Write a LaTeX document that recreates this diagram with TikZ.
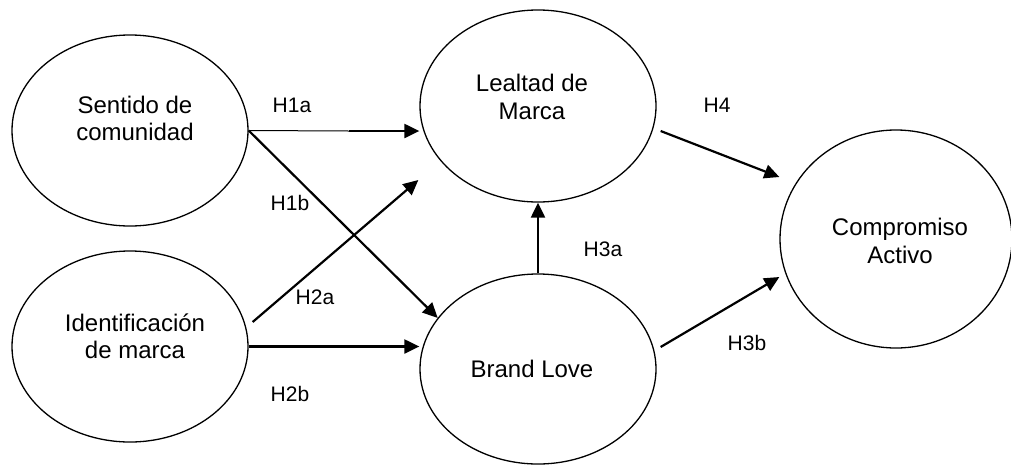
\documentclass[tikz,border=0pt]{standalone}
\usepackage{fontspec}
\setmainfont{Liberation Sans}
\usetikzlibrary{shapes.geometric,arrows.meta,calc}
\begin{document}
\begin{tikzpicture}[x=1pt,y=-1pt,var/.style={ellipse,draw,line width=1.3pt,inner sep=0pt},
vtxt/.style={align=center,font=\fontsize{24}{27.5}\selectfont},hl/.style={font=\fontsize{21}{24}\selectfont},
hyp/.style={line width=2.2pt,-{Triangle[length=15pt,width=14pt]}}]
\useasboundingbox (0,0) rectangle (1011,464);
\node[var,minimum width=236pt,minimum height=191pt,label={[vtxt,name=sentT,xshift=5pt,yshift=12pt]center:{Sentido de\\comunidad}}] (sent) at (130,130.5) {};
\node[var,minimum width=236pt,minimum height=191pt,label={[vtxt,name=idenT,xshift=5pt,yshift=10pt]center:{Identificación\\de marca}}] (iden) at (130,346.5) {};
\node[var,minimum width=236pt,minimum height=192pt,label={[vtxt,name=lealT,xshift=-6pt,yshift=9pt]center:{Lealtad de\\Marca}}] (leal) at (538,106) {};
\node[var,minimum width=236pt,minimum height=190pt,label={[vtxt,name=loveT,xshift=-6pt]center:{Brand Love}}] (love) at (538,369) {};
\node[var,minimum width=232pt,minimum height=218pt,label={[vtxt,name=compT,xshift=4pt,yshift=-2pt]center:{Compromiso\\Activo}}] (comp) at (896,239) {};
% hypotheses
\coordinate (h1am) at (349,131);
\draw[line width=1pt] (sent.east) -- (h1am); \draw[hyp] (h1am) -- (h1am -| leal.west);
\draw[hyp] (sent.east) -- (love.153);
\draw[hyp] ($(iden.east)+(4,-24.5)$) -- ($(leal.west)+(-1,74)$);
\draw[hyp] (iden.east) -- (iden.east -| love.west);
\draw[hyp] (love.north) -- (leal.south);
\draw[hyp] ($(leal.east)+(4,25)$) -- ($(comp.west)+(0,-62)$);
\draw[hyp] ($(love.east)+(4,-22)$) -- ($(comp.west)+(0,38)$);
\node[hl] (h1a) at (292,105) {H1a}; \node[hl] (h1b) at (290,203) {H1b};
\node[hl] (h2a) at (315,297) {H2a}; \node[hl] (h2b) at (290,394) {H2b};
\node[hl] (h3a) at (603,249) {H3a}; \node[hl] (h4) at (717,105) {H4}; \node[hl] (h3b) at (747,343) {H3b};
\end{tikzpicture}
\end{document}
